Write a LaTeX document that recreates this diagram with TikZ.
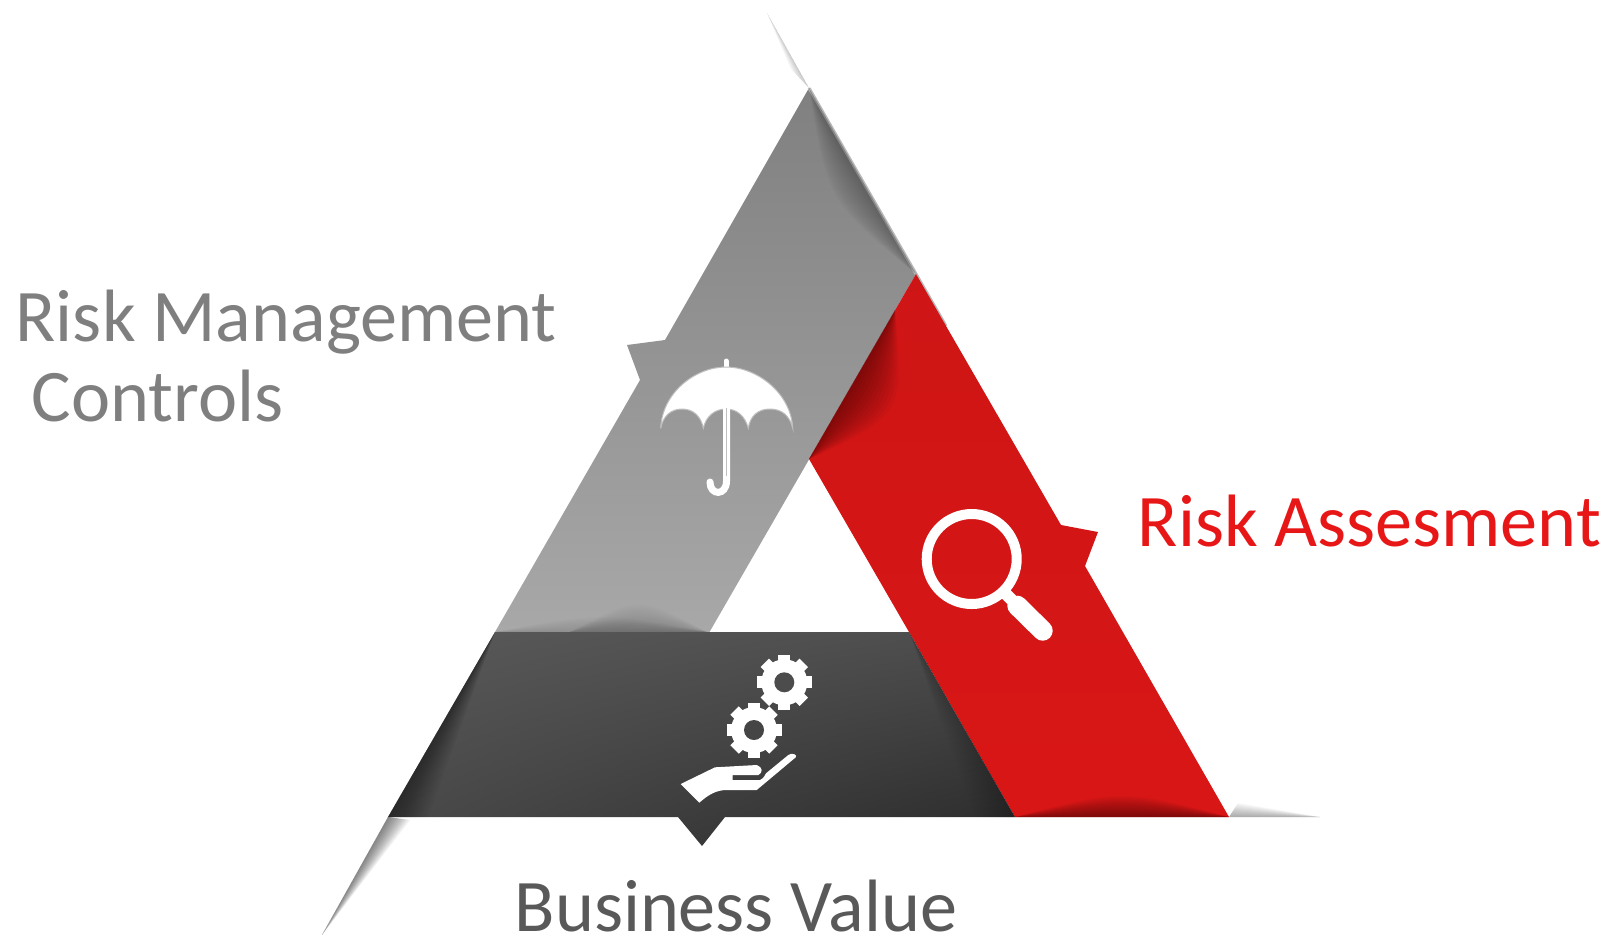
\documentclass[tikz,border=0pt]{standalone}
\usepackage{fontspec}
\setmainfont{Carlito}
\usetikzlibrary{calc, shadings}

\definecolor{greytop}{HTML}{808080}
\definecolor{greybot}{HTML}{A8A8A8}
\definecolor{riskred}{HTML}{D91616}
\definecolor{textred}{HTML}{E81717}
\definecolor{textgrey}{HTML}{7F7F7F}
\definecolor{textdark}{HTML}{595959}

% soft shadow along an edge, darkest at its middle
\newcommand{\softband}[4]{
  \foreach \w in {1,...,12}
    \fill[black, opacity=#4] #1 .. controls ($#1!.5!#2!\w/6*#3*0.2845pt!90:#2$) .. #2 -- cycle;
}
% soft shadow running out to a tip
\newcommand{\softwedge}[4]{
  \foreach \w in {1,...,12}
    \fill[black, opacity=#4] #1 -- #2 -- ($#2!\w/12!#3$) -- cycle;
}
% gear with eight teeth
\newcommand{\gearicon}[2]{
  \fill[white] (#1) circle (23);
  \foreach \a in {0,45,...,315}
    \draw[white, line width=1.2mm] (#1) ++(\a:18) -- ++(\a:9.5);
  \fill[#2] (#1) circle (10);
}

\begin{document}
\begin{tikzpicture}[x=0.01cm, y=0.01cm, every node/.style={inner sep=0pt, font=\fontsize{21.1}{26}\selectfont}]
	\useasboundingbox (0,0) rectangle (1610,938);

	% Corners of the triangle
	\coordinate (apex) at (809,850);
	\coordinate (redtop) at (916,664);
	\coordinate (outerright) at (1229,121);
	\coordinate (redleft) at (1015,121);
	\coordinate (outerleft) at (388,121);
	\coordinate (darktl) at (495,306);
	\coordinate (darktr) at (909,306);
	\coordinate (greybr) at (709.5,306);
	\coordinate (inner) at (809,479);

	% Shadows outside the triangle
	\softwedge{(767,925)}{(apex)}{(790,870)}{.02}
	\softwedge{(322,3)}{(outerleft)}{(410,118)}{.05}
	\softwedge{(1320,121)}{(outerright)}{(1238,135)}{.03}

	% Draw the grey side
	\shade[top color=greytop, bottom color=greybot]
		(apex) -- (redtop) -- (greybr) -- (darktl) -- (640,558) -- (627,593) -- (665,598) -- cycle;
	\draw[line width=0.3mm, black!28] (apex) -- (946,612);
	\softband{(redtop)}{(apex)}{20}{.022}
	\softband{(darktl)}{(707,306)}{10}{.012}
	\softband{(570,306)}{(707,306)}{18}{.015}

	% Draw the red side
	\shade[top color=riskred!95!black, bottom color=riskred]
		(redtop) -- (1061,413) -- (1098,406) -- (1085,372) -- (outerright) -- (redleft) -- (darktr) -- (inner) -- cycle;
	\softband{(895,628)}{(inner)}{30}{.035}
	\softband{(redleft)}{(outerright)}{14}{.04}

	% Draw the dark side
	\shade[upper left=black!65, upper right=black!70, lower left=black!72, lower right=black!84]
		(darktl) -- (darktr) -- (redleft) -- (725,121) -- (702,92) -- (678,121) -- (outerleft) -- cycle;
	\softwedge{(darktl)}{(outerleft)}{(428,121)}{.04}
	\softwedge{(darktr)}{(redleft)}{(975,121)}{.015}

	% Umbrella
	\draw[white, line width=0.5mm, line cap=round] (726,570) -- (726,577);
	\fill[white, draw=black!25, line width=0.1mm] (660.7,509.7) .. controls (662,545) and (695,571) .. (726,571)
		.. controls (757,571) and (791,545) .. (792.7,509.7)
		.. controls (790,522) and (782,529) .. (770,529) .. controls (758,529) and (750,522) .. (748.3,509.7)
		.. controls (745,522) and (737,529) .. (726,529) .. controls (715,529) and (706,522) .. (703.3,509.7)
		.. controls (701,522) and (693,529) .. (682,529) .. controls (671,529) and (663,522) .. (660.7,509.7) -- cycle;
	\draw[white, line width=0.7mm, line cap=round] (726.5,530) -- (726.5,457) .. controls (726.5,442) and (710,442) .. (710,456);
	\draw[black!25, line width=0.1mm] (726.5,530) -- (726.5,462);

	% Magnifier
	\coordinate (lens) at (971.7,379);
	\draw[white, line width=1mm] (lens) circle (45);
	\draw[white, line width=1.2mm] (1003,347) -- (1017.3,332.3);
	\draw[white, line width=2mm, line cap=round] (1017.3,332.3) -- (1042.7,307.3);

	% Gears and hand
	\gearicon{784.3,255.7}{black!70}
	\gearicon{754,208}{black!73}
	\fill[white] (680.7,154) -- (715,170.7) -- (756.7,173) .. controls (763,171) and (763,165) .. (758.3,163)
		-- (732.7,163) -- (732.7,158) -- (760,158) .. controls (764,160) and (765,163) .. (766,164.7)
		-- (788.3,183) .. controls (792,186) and (798,183) .. (795.7,180.7)
		-- (756.7,148) -- (726.7,148) .. controls (716,148) and (708,143) .. (699.3,135.3) -- cycle;

	% Labels
	\node[text=textgrey, anchor=base west] (mgmt) at (15,597) {Risk Management};
	\node[text=textgrey, anchor=base west] (ctrl) at (31,517) {Controls};
	\node[text=textred, anchor=base west] (assess) at (1137,392) {Risk Assesment};
	\node[text=textdark, anchor=base west] (value) at (514,7) {Business Value};
\end{tikzpicture}
\end{document}
